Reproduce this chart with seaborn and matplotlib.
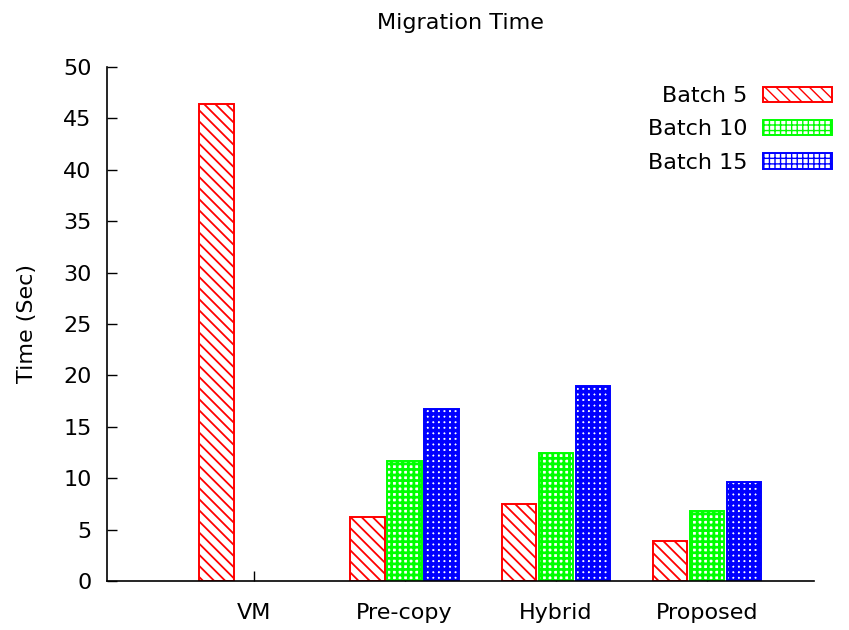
import matplotlib
matplotlib.use("Agg")
import matplotlib.pyplot as plt
import seaborn as sns
import pandas as pd
from matplotlib.patches import Patch

categories = ["VM", "Pre-copy", "Hybrid", "Proposed"]
series = ["Batch 5", "Batch 10", "Batch 15"]
batch5 = [46.4, 6.25, 7.45, 3.9]
batch10 = [0.0, 11.65, 12.45, 6.8]
batch15 = [0.0, 16.7, 19.0, 9.6]
yticks = [0, 5, 10, 15, 20, 25, 30, 35, 40, 45, 50]

rows = []
for s, vals in zip(series, [batch5, batch10, batch15]):
    for c, v in zip(categories, vals):
        rows.append({"Method": c, "Batch": s, "Time": v})
df = pd.DataFrame(rows)

sns.set_theme(style="white")
plt.rcParams["font.family"] = ["DejaVu Sans"]
plt.rcParams["hatch.linewidth"] = 1.0
plt.rcParams["text.color"] = "black"
plt.rcParams["axes.labelcolor"] = "black"
plt.rcParams["xtick.color"] = "black"
plt.rcParams["ytick.color"] = "black"

FS = 16
colors = {"Batch 5": "#ff0000", "Batch 10": "#00ff00", "Batch 15": "#0000ff"}
hatches = {"Batch 5": "\\\\\\", "Batch 10": "+++", "Batch 15": "+++"}
hatch_lw = {"Batch 5": 1.3, "Batch 10": 2.0, "Batch 15": 2.6}


def style_patch(p, s):
    p.set_facecolor("white")
    p.set_edgecolor(colors[s])
    p.set_hatch(hatches[s])
    p.set_linewidth(1.4)
    if hasattr(p, "set_hatch_linewidth"):
        p.set_hatch_linewidth(hatch_lw[s])


fig = plt.figure(figsize=(8.49, 6.3), dpi=100)
ax = fig.add_axes([0.126, 0.0778, 0.833, 0.816])

sns.barplot(data=df, x="Method", y="Time", hue="Batch", order=categories,
            hue_order=series, palette=colors, width=0.735, gap=0.07,
            ax=ax, legend=False, errorbar=None)

for container, s in zip(ax.containers, series):
    for bar in container:
        if bar.get_height() <= 0:
            bar.set_visible(False)
            continue
        style_patch(bar, s)

ax.set_xlim(-0.97, 3.71)
ax.set_ylim(0, 50)
ax.set_yticks(yticks)
ax.set_yticklabels([str(t) for t in yticks], fontsize=FS)
ax.set_xticks(range(len(categories)))
ax.set_xticklabels(categories, fontsize=FS)
ax.tick_params(axis="both", direction="in", length=7, width=1, color="black",
               left=True, bottom=True)
ax.tick_params(axis="y", pad=11)
ax.tick_params(axis="x", pad=16)
ax.set_xlabel("")
ax.set_ylabel("Time (Sec)", fontsize=FS, labelpad=19)
ax.set_title("Migration Time", fontsize=FS, pad=27)

for side in ["top", "right"]:
    ax.spines[side].set_visible(False)
for side in ["left", "bottom"]:
    ax.spines[side].set_color("black")
    ax.spines[side].set_linewidth(1.2)

handles = []
for s in series:
    h = Patch(label=s)
    style_patch(h, s)
    handles.append(h)
leg = ax.legend(handles=handles, loc="upper right", frameon=False, markerfirst=False,
                fontsize=FS, handlelength=3.1, handleheight=0.7, labelspacing=0.6,
                bbox_to_anchor=(1.038, 0.98), borderaxespad=0, handletextpad=0.7)

fig.savefig("out.png", dpi=100)
